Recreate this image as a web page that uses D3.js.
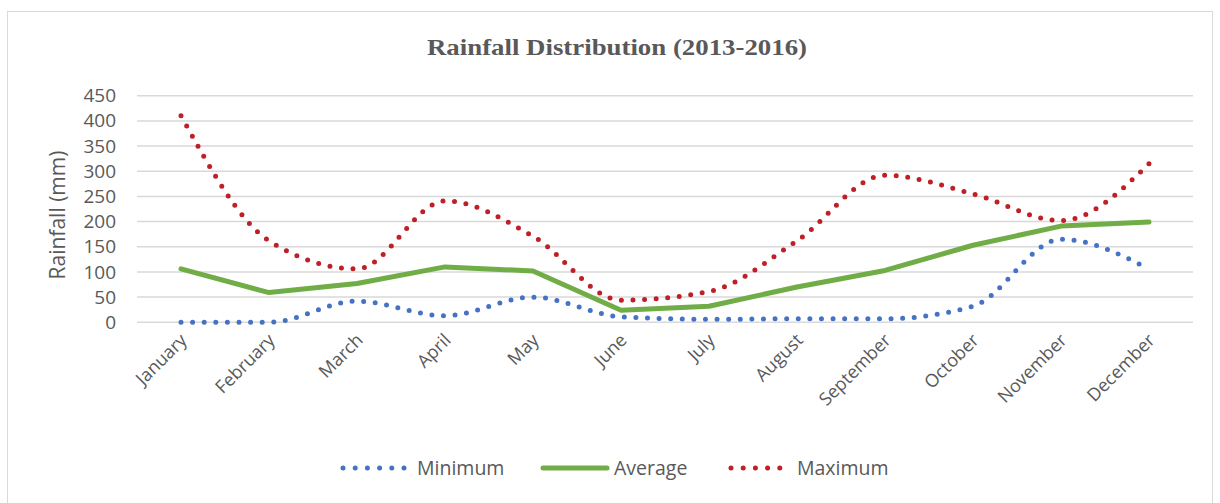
<!DOCTYPE html>
<html><head><meta charset="utf-8">
<script src="https://cdn.jsdelivr.net/npm/d3@7"></script>
<style>body{margin:0;background:#fff}svg{display:block}</style>
</head><body>
<svg id="c" width="1220" height="503"></svg>
<script>
const months = ["January","February","March","April","May","June","July","August","September","October","November","December"];
const minimum = [0, 0, 42, 13, 50, 11, 6, 7, 7, 32, 165, 106];
const average = [106, 59, 77, 110, 102, 24, 32, 70, 103, 153, 191, 199];
const maximum = [410, 162, 106, 241, 171, 44, 61, 162, 292, 255, 202, 315];
const yTicks = [0, 50, 100, 150, 200, 250, 300, 350, 400, 450];
const title = "Rainfall Distribution (2013-2016)";
const yTitle = "Rainfall (mm)";

const svg = d3.select("#c");
const L = 137, R = 1193, T = 95.7, B = 322.3;
const x = d3.scaleBand().domain(months).range([L, R]);
const y = d3.scaleLinear().domain([0, 450]).range([B, T]);
const grey = "#595959";

svg.append("rect").attr("x", 7.5).attr("y", 11.5).attr("width", 1205).attr("height", 500)
  .attr("fill", "#fff").attr("stroke", "#D9D9D9").attr("stroke-width", 1);

svg.append("text").attr("x", 427).attr("y", 55)
  .attr("font-family", "Liberation Serif, serif").attr("font-weight", "bold")
  .attr("font-size", 24).attr("fill", grey)
  .attr("textLength", 380).attr("lengthAdjust", "spacingAndGlyphs").text(title);

// gridlines
svg.append("g").selectAll("line").data(yTicks).join("line")
  .attr("x1", L).attr("x2", R).attr("y1", d => y(d)).attr("y2", d => y(d))
  .attr("stroke", "#D9D9D9").attr("stroke-width", 1.5);

// y axis
const ya = svg.append("g").attr("transform", `translate(${L},0)`)
  .call(d3.axisLeft(y).tickValues(yTicks).tickSize(0).tickPadding(21));
ya.select(".domain").remove();
ya.selectAll("text").attr("font-family", "Open Sans, sans-serif").attr("font-size", 19).attr("fill", grey);

svg.append("text").attr("transform", `translate(65,${(T + B) / 2 + 6}) rotate(-90)`)
  .attr("text-anchor", "middle").attr("font-family", "Open Sans, sans-serif")
  .attr("font-size", 21).attr("fill", grey).text(yTitle);

// x axis
const xa = svg.append("g").attr("transform", `translate(0,${B})`)
  .call(d3.axisBottom(x).tickSize(0).tickPadding(0));
xa.select(".domain").remove();
xa.selectAll("text").attr("font-family", "Open Sans, sans-serif").attr("font-size", 18).attr("fill", grey)
  .attr("text-anchor", "end").attr("dy", 0)
  .attr("transform", "translate(7,19) rotate(-45)");

const cx = m => x(m) + x.bandwidth() / 2;
const lineSmooth = d3.line().x((d, i) => cx(months[i])).y(d => y(d)).curve(d3.curveMonotoneX);
const lineStraight = d3.line().x((d, i) => cx(months[i])).y(d => y(d));

const series = [
  {name: "Minimum", data: minimum, color: "#4472C4", dotted: true},
  {name: "Average", data: average, color: "#70AD47", dotted: false},
  {name: "Maximum", data: maximum, color: "#BF1F26", dotted: true}
];

series.forEach(s => {
  const p = svg.append("path").attr("fill", "none").attr("stroke", s.color)
    .attr("stroke-linecap", "round").attr("stroke-linejoin", "round");
  if (s.dotted) {
    p.attr("d", lineSmooth(s.data)).attr("stroke-width", 5).attr("stroke-dasharray", "0 11.6");
  } else {
    p.attr("d", lineStraight(s.data)).attr("stroke-width", 5);
  }
});

// legend
const leg = [
  {x1: 343, x2: 404, tx: 417},
  {x1: 543, x2: 607, tx: 614},
  {x1: 731, x2: 792, tx: 797}
];
series.forEach((s, i) => {
  const g = svg.append("g");
  const l = g.append("line").attr("x1", leg[i].x1).attr("x2", leg[i].x2).attr("y1", 468).attr("y2", 468)
    .attr("stroke", s.color).attr("stroke-linecap", "round").attr("stroke-width", 5);
  if (s.dotted) l.attr("stroke-dasharray", "0 12.2");
  g.append("text").attr("x", leg[i].tx).attr("y", 475).attr("font-family", "Open Sans, sans-serif")
    .attr("font-size", 19.5).attr("fill", grey).text(s.name);
});
</script>
</body></html>
